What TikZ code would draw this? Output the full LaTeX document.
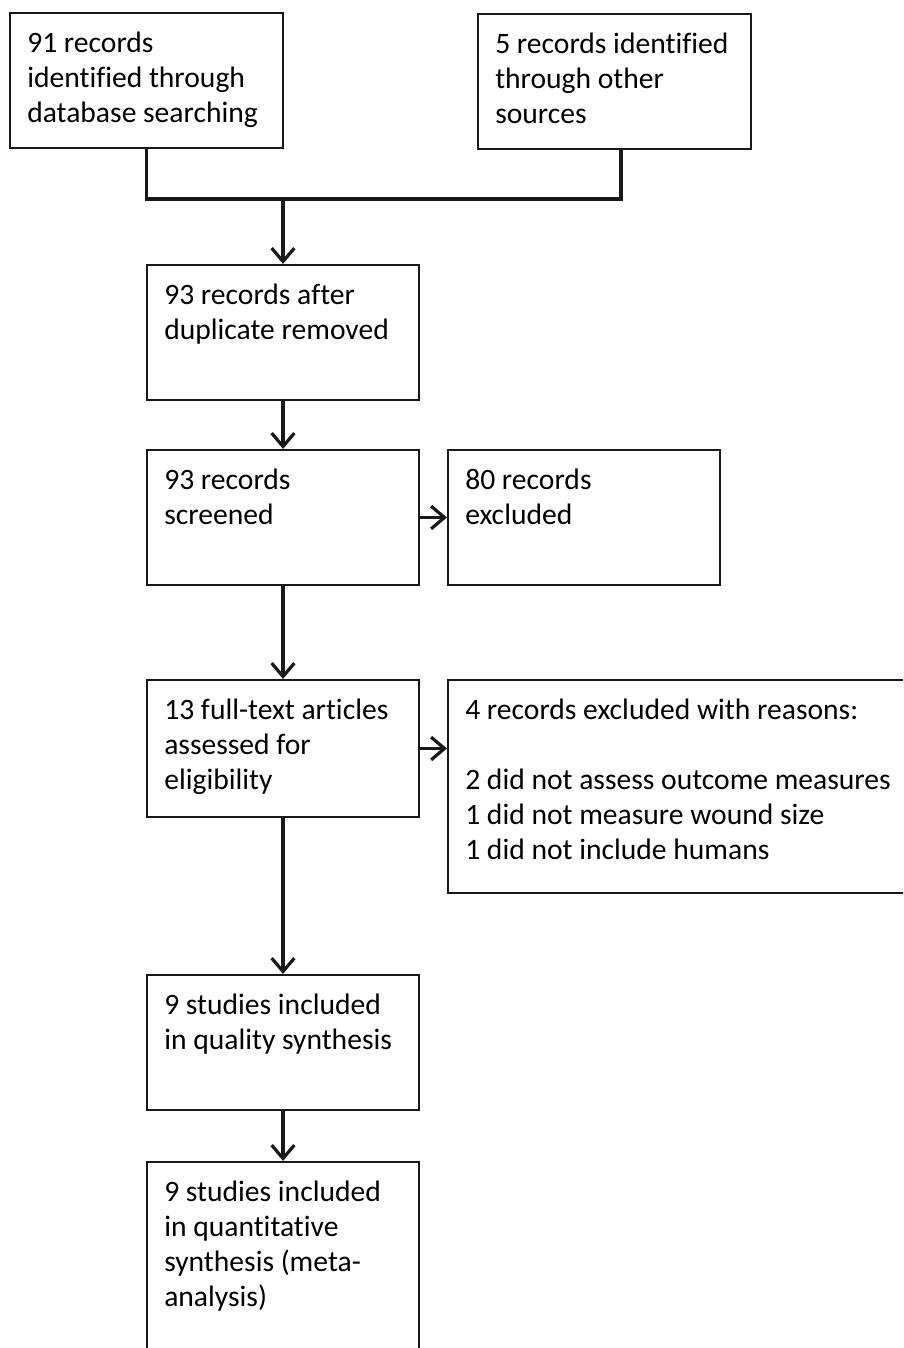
\documentclass[tikz,border=0pt]{standalone}
\usepackage{fontspec}
\setmainfont[Ligatures={NoCommon,NoContextual}]{Carlito}
\usetikzlibrary{arrows.meta}
\begin{document}
\begin{tikzpicture}[x=0.75pt,y=-0.75pt,
 box/.style={draw=black!90, line width=1.6pt, rectangle, inner sep=0pt},
 txt/.style={anchor=north west, inner sep=0pt, align=left, font=\fontsize{22.2}{26.25}\selectfont},
 arr/.style={line width=2.4pt, draw=black!90, -{Straight Barb[length=10pt,width=17pt,line width=2.4pt]}},
 ln/.style={line width=2.4pt, draw=black!90}]
\useasboundingbox (0,0) rectangle (903,1348);
\clip (0,0) rectangle (903,1348);
\newcommand\flowbox[6]{%
  \node[box, minimum width={(#4-#2)*0.75pt}, minimum height={(#5-#3)*0.75pt}] (#1) at ({(#2+#4)/2},{(#3+#5)/2}) {};
  \node[txt] (#1t) at ({#2+17},{#3+15}) {\strut #6};}
\flowbox{b1}{10}{13}{283}{148}{91 records\\identified through\\database searching}
\flowbox{b2}{478}{14}{751}{149}{5 records identified\\through other\\sources}
\flowbox{b3}{147}{265}{419}{400}{93 records after\\duplicate removed}
\flowbox{b4}{147}{450}{419}{585}{93 records\\screened}
\flowbox{b5}{448}{450}{720}{585}{80 records\\excluded}
\flowbox{b6}{147}{680}{419}{817}{13 full-text articles\\assessed for\\eligibility}
\flowbox{b7}{448}{680}{940}{893}{4 records excluded with reasons:\\[26.25pt]2 did not assess outcome measures\\1 did not measure wound size\\1 did not include humans}
\flowbox{b8}{147}{975}{419}{1110}{9 studies included\\in quality synthesis}
\flowbox{b9}{147}{1162}{419}{1420}{9 studies included\\in quantitative\\synthesis (meta-\\analysis)}
\coordinate (j) at (284,199);
\draw[ln] (b1.south) |- ([xshift=4.9pt]b2.south |- j) -- ([xshift=4.9pt]b2.south);
\draw[arr] (b3.north |- j) -- (b3.north);
\draw[arr] (b3.south) -- (b4.north);
\draw[arr] (b4.east) -- (b5.west);
\draw[arr] (b4.south) -- (b6.north);
\draw[arr] (b6.east) -- (b7.west |- b6.east);
\draw[arr] (b6.south) -- (b8.north);
\draw[arr] (b8.south) -- (b9.north);
\end{tikzpicture}
\end{document}
